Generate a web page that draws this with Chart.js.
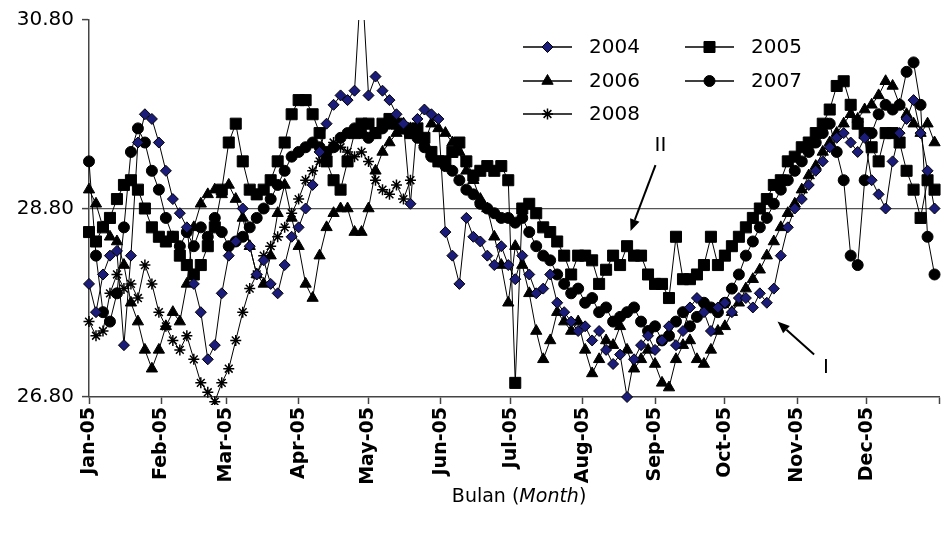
<!DOCTYPE html>
<html>
<head>
<meta charset="utf-8">
<script src="https://cdn.jsdelivr.net/npm/chart.js@4/dist/chart.umd.min.js"></script>
<style>
html,body{margin:0;padding:0;background:#fff;}
#wrap{width:948px;height:535px;position:relative;}
</style>
</head>
<body>
<div id="wrap"><canvas id="c" width="948" height="535"></canvas></div>
<script>
// ---- categories: day of year (every 3rd day) ----
const days = [0,3,6,9,12,15,18,21,24,27,
  30,33,36,39,42,45,48,51,54,57,
  60,63,66,69,72,75,78,81,84,87,
  90,93,96,99,102,105,108,111,114,117,
  120,123,126,129,132,135,138,141,144,147,
  150,153,156,159,162,165,168,171,174,177,
  180,183,186,189,192,195,198,201,204,207,
  210,213,216,219,222,225,228,231,234,237,
  240,243,246,249,252,255,258,261,264,267,
  270,273,276,279,282,285,288,291,294,297,
  300,303,306,309,312,315,318,321,324,327,
  330,333,336,339,342,345,348,351,354,357,
  360,363];

// month tick positions (day of year) and labels
const monthTicks = [0,31,59,90,120,151,181,212,243,273,304,334,365];
const monthLabels = ['Jan-05','Feb-05','Mar-05','Apr-05','May-05','Jun-05','Jul-05','Aug-05','Sep-05','Oct-05','Nov-05','Dec-05'];
const yTicks = [26.8, 28.8, 30.8];
const seriesNames = ['2004','2005','2006','2007','2008'];
const axisTitleParts = [['Bulan (', 'normal'], ['Month', 'italic'], [')', 'normal']];

// ---- series values (°C) ----
const s2004 = [28.0,27.7,28.1,28.3,28.35,27.35,28.3,29.5,29.8,29.75,
  29.5,29.2,28.9,28.75,28.6,28.0,27.7,27.2,27.35,27.9,
  28.3,28.45,28.8,28.4,28.1,28.25,28.0,27.9,28.2,28.5,
  28.6,28.8,29.05,29.4,29.7,29.9,30.0,29.95,30.05,31.3,
  30.0,30.2,30.05,29.95,29.8,29.7,28.85,29.75,29.85,29.8,
  29.75,28.55,28.3,28.0,28.7,28.5,28.45,28.3,28.2,28.4,
  28.2,28.05,28.3,28.1,27.9,27.95,28.1,27.8,27.7,27.6,
  27.5,27.55,27.4,27.5,27.3,27.15,27.25,26.8,27.2,27.35,
  27.45,27.3,27.4,27.55,27.35,27.5,27.75,27.85,27.7,27.5,
  27.75,27.8,27.7,27.85,27.85,27.75,27.9,27.8,27.95,28.3,
  28.6,28.8,28.9,29.05,29.2,29.3,29.45,29.55,29.6,29.5,
  29.4,29.55,29.1,28.95,28.8,29.3,29.6,29.75,29.95,29.6,
  29.2,28.8];
const s2005 = [28.55,28.45,28.6,28.7,28.9,29.05,29.1,29.0,28.8,28.6,
  28.5,28.45,28.5,28.3,28.2,28.1,28.2,28.4,28.6,29.0,
  29.5,29.7,29.3,29.0,28.95,29.0,29.1,29.3,29.5,29.8,
  29.95,29.95,29.8,29.6,29.3,29.1,29.0,29.3,29.6,29.7,
  29.7,29.6,29.7,29.75,29.7,29.65,29.6,29.65,29.55,29.4,
  29.3,29.3,29.4,29.5,29.3,29.15,29.2,29.25,29.2,29.25,
  29.1,26.95,28.8,28.85,28.75,28.6,28.55,28.45,28.3,28.1,
  28.3,28.3,28.25,28.0,28.15,28.3,28.2,28.4,28.3,28.3,
  28.1,28.0,28.0,27.85,28.5,28.05,28.05,28.1,28.2,28.5,
  28.2,28.3,28.4,28.5,28.6,28.7,28.8,28.9,29.05,29.1,
  29.3,29.35,29.45,29.5,29.6,29.7,29.85,30.1,30.15,29.9,
  29.7,29.6,29.45,29.3,29.6,29.6,29.5,29.2,29.0,28.7,
  29.1,29.0];
const s2006 = [29.0,28.85,28.6,28.5,28.45,28.2,27.8,27.6,27.3,27.1,
  27.3,27.55,27.7,27.6,28.0,28.6,28.85,28.95,29.0,28.95,
  29.05,28.9,28.7,28.4,28.1,28.0,28.3,28.75,29.05,28.7,
  28.4,28.0,27.85,28.3,28.6,28.75,28.8,28.8,28.55,28.55,
  28.8,29.2,29.4,29.5,29.6,29.7,29.65,29.6,29.5,29.7,
  29.65,29.6,29.5,29.4,29.2,29.1,28.9,28.8,28.5,28.2,
  27.8,28.4,28.2,27.9,27.5,27.2,27.4,27.7,27.6,27.5,
  27.6,27.3,27.05,27.2,27.4,27.35,27.55,27.3,27.1,27.2,
  27.3,27.15,26.95,26.9,27.2,27.35,27.4,27.2,27.15,27.3,
  27.5,27.55,27.7,27.8,27.95,28.05,28.15,28.3,28.45,28.6,
  28.75,28.85,29.0,29.15,29.25,29.4,29.5,29.6,29.7,29.8,
  29.75,29.85,29.9,30.0,30.15,30.1,29.9,29.8,29.7,29.6,
  29.7,29.5];
const s2007 = [29.3,28.3,27.7,27.6,27.9,28.6,29.4,29.65,29.5,29.2,
  29.0,28.7,28.5,28.4,28.55,28.4,28.6,28.5,28.7,28.55,
  28.4,28.45,28.5,28.6,28.7,28.8,28.9,29.05,29.2,29.35,
  29.4,29.45,29.5,29.45,29.4,29.45,29.55,29.6,29.65,29.6,
  29.55,29.6,29.65,29.7,29.7,29.65,29.6,29.55,29.45,29.35,
  29.3,29.25,29.2,29.1,29.0,28.95,28.85,28.8,28.75,28.7,
  28.7,28.65,28.7,28.55,28.4,28.3,28.25,28.1,28.0,27.9,
  27.95,27.8,27.85,27.7,27.75,27.6,27.65,27.7,27.75,27.6,
  27.5,27.55,27.4,27.45,27.6,27.7,27.55,27.65,27.8,27.75,
  27.7,27.8,27.95,28.1,28.3,28.45,28.6,28.7,28.85,29.0,
  29.1,29.2,29.3,29.4,29.5,29.6,29.7,29.4,29.1,28.3,
  28.2,29.1,29.6,29.8,29.9,29.85,29.9,30.25,30.35,29.9,
  28.5,28.1];
const s2008 = [27.6,27.45,27.5,27.9,28.1,27.95,28.0,27.85,28.2,28.0,
  27.7,27.55,27.4,27.3,27.45,27.2,26.95,26.85,26.75,26.95,
  27.1,27.4,27.7,27.95,28.1,28.3,28.4,28.5,28.6,28.75,
  28.9,29.1,29.2,29.3,29.4,29.5,29.45,29.4,29.35,29.4,
  29.3,29.1,29.0,28.95,29.05,28.9,29.1];

// annotations in data units: [day, value]
const annII = {text:'II', at:[245.3, 29.46], from:[243.2, 29.26], to:[232.5, 28.56]};
const annI  = {text:'I',  at:[316.4, 27.11], from:[311.3, 27.25], to:[295.6, 27.60]};

const FONT = '"DejaVu Sans", Verdana, sans-serif';
Chart.defaults.font.family = FONT;

function pts(vals){ return vals.map((v,i)=>({x:days[i], y:v})); }

const markerDefs = [
  {style:'rectRot', r:5.5, fill:'#1b1b7a', bw:1},
  {style:'rect', r:7.8, fill:'#000', bw:1},
  {style:'triangle', r:6.5, fill:'#000', bw:1},
  {style:'circle', r:5.5, fill:'#000', bw:1},
  {style:'star', r:5.5, fill:'#000', bw:1.5}
];
const allSeries = [s2004, s2005, s2006, s2007, s2008];

const datasets = allSeries.map((s,i)=>({
  label: seriesNames[i],
  data: pts(s),
  borderColor:'#000',
  borderWidth:1,
  tension:0,
  pointStyle: markerDefs[i].style,
  pointRadius: markerDefs[i].r,
  pointBackgroundColor: markerDefs[i].fill,
  pointBorderColor:'#000',
  pointBorderWidth: markerDefs[i].bw,
  clip:{left:6, top:0, right:2, bottom:8}
}));

function drawMarker(ctx, style, x, y, r, fill, bw){
  ctx.save();
  ctx.fillStyle = fill; ctx.strokeStyle = '#000'; ctx.lineWidth = bw;
  ctx.beginPath();
  if (style === 'rectRot') {
    ctx.moveTo(x, y-r); ctx.lineTo(x+r, y); ctx.lineTo(x, y+r); ctx.lineTo(x-r, y); ctx.closePath();
    ctx.fill(); ctx.stroke();
  } else if (style === 'rect') {
    const s = r*Math.SQRT1_2; ctx.rect(x-s, y-s, 2*s, 2*s); ctx.fill(); ctx.stroke();
  } else if (style === 'triangle') {
    let a = 0;
    ctx.moveTo(x+Math.sin(a)*r, y-Math.cos(a)*r);
    a += 2*Math.PI/3; ctx.lineTo(x+Math.sin(a)*r, y-Math.cos(a)*r);
    a += 2*Math.PI/3; ctx.lineTo(x+Math.sin(a)*r, y-Math.cos(a)*r);
    ctx.closePath(); ctx.fill(); ctx.stroke();
  } else if (style === 'circle') {
    ctx.arc(x, y, r, 0, 2*Math.PI); ctx.closePath(); ctx.fill(); ctx.stroke();
  } else if (style === 'star') {
    const d = r*Math.SQRT1_2;
    ctx.moveTo(x-r, y); ctx.lineTo(x+r, y);
    ctx.moveTo(x, y-r); ctx.lineTo(x, y+r);
    ctx.moveTo(x-d, y-d); ctx.lineTo(x+d, y+d);
    ctx.moveTo(x-d, y+d); ctx.lineTo(x+d, y-d);
    ctx.stroke();
  }
  ctx.restore();
}

const legendPlugin = {
  id:'customLegend',
  afterDraw(chart){
    const ctx = chart.ctx;
    const colX = [523, 685], rowY = [47, 81, 114];
    chart.data.datasets.forEach((ds,i)=>{
      const cx = colX[i%2], cy = rowY[Math.floor(i/2)];
      ctx.save();
      ctx.strokeStyle = '#000'; ctx.lineWidth = 1.5;
      ctx.beginPath(); ctx.moveTo(cx, cy); ctx.lineTo(cx+49, cy); ctx.stroke();
      drawMarker(ctx, ds.pointStyle, cx+24.5, cy, ds.pointRadius, ds.pointBackgroundColor, ds.pointBorderWidth);
      ctx.fillStyle = '#000'; ctx.font = '20px ' + FONT;
      ctx.textAlign = 'left'; ctx.textBaseline = 'middle';
      ctx.fillText(ds.label, cx+66, cy+1);
      ctx.restore();
    });
  }
};

const titlePlugin = {
  id:'axisTitle',
  afterDraw(chart){
    const ctx = chart.ctx, a = chart.chartArea;
    ctx.save();
    ctx.fillStyle = '#000'; ctx.textBaseline = 'middle'; ctx.textAlign = 'left';
    let total = 0;
    const widths = axisTitleParts.map(([t, st])=>{ ctx.font = st+' 19px '+FONT; const w = ctx.measureText(t).width; total += w; return w; });
    let x = (a.left + a.right)/2 + 5 - total/2;
    const y = 497;
    axisTitleParts.forEach(([t, st], i)=>{ ctx.font = st+' 19px '+FONT; ctx.fillText(t, x, y); x += widths[i]; });
    ctx.restore();
  }
};

function arrow(ctx, x1, y1, x2, y2){
  const ang = Math.atan2(y2-y1, x2-x1), L = 12, W = 5;
  const bx = x2 - Math.cos(ang)*L, by = y2 - Math.sin(ang)*L;
  ctx.beginPath(); ctx.moveTo(x1, y1); ctx.lineTo(bx, by); ctx.stroke();
  ctx.beginPath();
  ctx.moveTo(x2, y2);
  ctx.lineTo(bx + Math.sin(ang)*W, by - Math.cos(ang)*W);
  ctx.lineTo(bx - Math.sin(ang)*W, by + Math.cos(ang)*W);
  ctx.closePath(); ctx.fill();
}

const annotationPlugin = {
  id:'ann',
  afterDatasetsDraw(chart){
    const ctx = chart.ctx, xs = chart.scales.x, ys = chart.scales.y;
    ctx.save();
    ctx.strokeStyle = '#000'; ctx.fillStyle = '#000'; ctx.lineWidth = 2;
    [annII, annI].forEach(a=>{
      arrow(ctx, xs.getPixelForValue(a.from[0]), ys.getPixelForValue(a.from[1]),
                 xs.getPixelForValue(a.to[0]), ys.getPixelForValue(a.to[1]));
      ctx.font = '20px ' + FONT; ctx.textAlign = 'center'; ctx.textBaseline = 'middle';
      ctx.fillText(a.text, xs.getPixelForValue(a.at[0]), ys.getPixelForValue(a.at[1]));
    });
    ctx.restore();
  }
};

new Chart(document.getElementById('c'), {
  type:'line',
  data:{ datasets },
  options:{
    responsive:false, animation:false, devicePixelRatio:1, events:[],
    layout:{ padding:{ top:20, right:2, left:0, bottom:0 } },
    plugins:{ legend:{display:false}, tooltip:{enabled:false}, title:{display:false} },
    scales:{
      x:{
        type:'linear', min:0, max:365,
        afterBuildTicks: s => { s.ticks = monthTicks.map(v=>({value:v})); },
        afterFit: s => { s.height = 138; s.paddingLeft = 0; s.paddingRight = 0; },
        ticks:{ autoSkip:false, minRotation:90, maxRotation:90, padding:3,
          font:{ size:19, weight:'bold' }, color:'#000',
          callback:(v,i)=> monthLabels[i] || '' },
        grid:{ drawOnChartArea:false, drawTicks:true, tickLength:7, tickColor:'#444', tickWidth:1.5 },
        border:{ color:'#444', width:1.5 }
      },
      y:{
        min:26.8, max:30.8,
        afterBuildTicks: s => { s.ticks = yTicks.map(v=>({value:v})); },
        afterFit: s => { s.width = 89; },
        ticks:{ padding:8, font:{ size:20 }, color:'#000', callback: v => Number(v).toFixed(2) },
        grid:{ drawTicks:true, tickLength:7, tickColor:'#444', tickWidth:1.5,
          color: c => (c.tick && Math.abs(c.tick.value - 28.8) < 1e-6) ? '#555' : 'rgba(0,0,0,0)', lineWidth:1.2 },
        border:{ color:'#444', width:1.5 }
      }
    }
  },
  plugins:[legendPlugin, titlePlugin, annotationPlugin]
});
</script>
</body>
</html>
